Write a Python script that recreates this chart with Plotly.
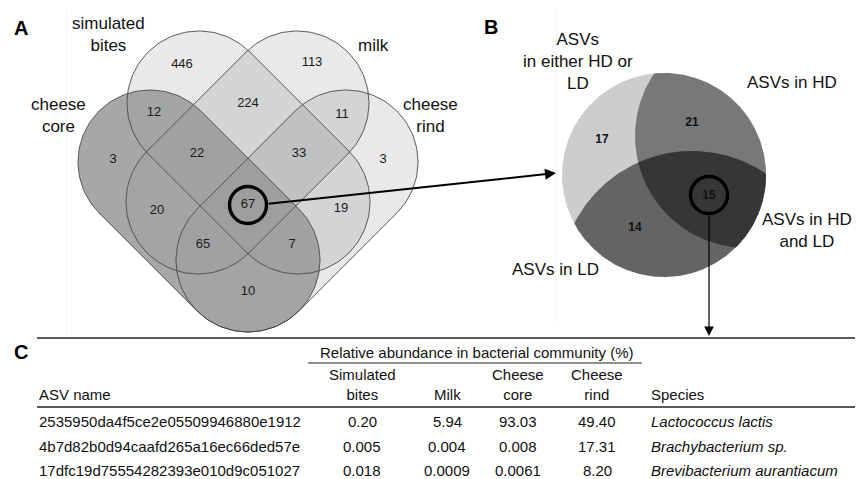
import numpy as np
import plotly.graph_objects as go

# ---------------- DATA ----------------
venn_set_names = ["simulated<br>bites", "milk", "cheese<br>core", "cheese<br>rind"]
venn_regions = ["B", "C", "BC", "AB", "CD", "A", "ABC", "BCD", "D", "AC", "ABCD", "BD", "ACD", "ABD", "AD"]
venn_counts = [446, 113, 224, 12, 11, 3, 22, 33, 3, 20, 67, 19, 65, 7, 10]

hdld_names = ["ASVs<br>in either HD or<br>LD", "ASVs in HD", "ASVs in LD", "ASVs in HD<br>and LD"]
hdld_regions = ["either", "HD", "LD", "HD&LD"]
hdld_counts = [17, 21, 14, 15]

table_group_title = "Relative abundance in bacterial community (%)"
table_columns = ["ASV name", "Simulated<br>bites", "Milk", "Cheese<br>core", "Cheese<br>rind", "Species"]
asv_names = ["2535950da4f5ce2e05509946880e1912",
             "4b7d82b0d94caafd265a16ec66ded57e",
             "17dfc19d75554282393e010d9c051027"]
abund_bites = ["0.20", "0.005", "0.018"]
abund_milk = ["5.94", "0.004", "0.0009"]
abund_core = ["93.03", "0.008", "0.0061"]
abund_rind = ["49.40", "17.31", "8.20"]
species = ["Lactococcus lactis", "Brachybacterium sp.", "Brevibacterium aurantiacum"]

# ---------------- LAYOUT (pixel-like data space) ----------------
W, H = 863, 479
PAGE_MARGIN = 8   # default body margin of the html page
FONT = "Liberation Sans, Arial, sans-serif"

# Venn geometry: stadium shapes (cap centres, radius)
R = 72
stadiums = {
    "A": ((150, 162), (248, 260)),   # cheese core
    "B": ((199, 103), (298, 202)),   # simulated bites
    "C": ((297, 103), (198, 202)),   # milk
    "D": ((346, 162), (248, 260)),   # cheese rind
}
region_pos = {
    "B": (182, 65), "C": (312, 63), "BC": (248, 104), "AB": (154, 113), "CD": (342, 115),
    "A": (113, 160), "ABC": (197, 154), "BCD": (299, 154), "D": (383, 160),
    "AC": (157, 211), "ABCD": (248, 205), "BD": (341, 209), "ACD": (203, 245),
    "ABD": (292, 245), "AD": (248, 292),
}
set_label_pos = [(108, 34), (373, 45), (58, 115), (430, 115)]

# Panel B geometry
BIG = ((664, 175), 102)
HD = ((747, 136), 112)
LD = ((692, 283), 132)
hdld_pos = {"either": (602, 140), "HD": (692, 123), "LD": (635, 228), "HD&LD": (709, 196)}
hdld_label_pos = [(578, 61), (792, 82), (555, 269), (807, 230)]


def stadium(p1, p2, r, n=80):
    p1 = np.array(p1, float)
    p2 = np.array(p2, float)
    d = p2 - p1
    a = np.arctan2(d[1], d[0])
    t2 = np.linspace(a - np.pi / 2, a + np.pi / 2, n)
    t1 = np.linspace(a + np.pi / 2, a + 3 * np.pi / 2, n)
    xs = np.concatenate([p2[0] + r * np.cos(t2), p1[0] + r * np.cos(t1), [p2[0] + r * np.cos(t2[0])]])
    ys = np.concatenate([p2[1] + r * np.sin(t2), p1[1] + r * np.sin(t1), [p2[1] + r * np.sin(t2[0])]])
    return xs, ys


def circ_pts(c, r, n=600):
    t = np.linspace(0, 2 * np.pi, n, endpoint=False)
    return np.stack([c[0] + r * np.cos(t), c[1] + r * np.sin(t)], 1)


def inside(P, c, r):
    return (P[:, 0] - c[0]) ** 2 + (P[:, 1] - c[1]) ** 2 <= r * r + 1e-6


def intersect(circles):
    pts = []
    for i, (c, r) in enumerate(circles):
        P = circ_pts(c, r)
        m = np.ones(len(P), bool)
        for j, (c2, r2) in enumerate(circles):
            if j != i:
                m &= inside(P, c2, r2)
        pts.append(P[m])
    P = np.concatenate(pts)
    ctr = P.mean(0)
    ang = np.arctan2(P[:, 1] - ctr[1], P[:, 0] - ctr[0])
    P = P[np.argsort(ang)]
    P = np.vstack([P, P[:1]])
    return P[:, 0], P[:, 1]


fig = go.Figure()
shapes = []
ann = []

# faint panel separators
shapes.append(dict(type="line", xref="x", yref="y", x0=66, x1=66, y0=0, y1=336,
                   line=dict(color="#f1f1f1", width=1), layer="below"))
shapes.append(dict(type="line", xref="x", yref="y", x0=556, x1=556, y0=0, y1=322,
                   line=dict(color="#f1f1f1", width=1), layer="below"))

# ---- Panel A: Venn ----
for key in ["B", "C", "D"]:
    xs, ys = stadium(*stadiums[key], R)
    fig.add_trace(go.Scatter(x=xs, y=ys, mode="lines", fill="toself",
                             fillcolor="rgba(0,0,0,0.085)", line=dict(width=0),
                             hoverinfo="skip", showlegend=False))
xs, ys = stadium(*stadiums["A"], R)
fig.add_trace(go.Scatter(x=xs, y=ys, mode="lines", fill="toself",
                         fillcolor="rgba(152,152,152,0.85)", line=dict(width=0),
                         hoverinfo="skip", showlegend=False))
for key in ["A", "B", "C", "D"]:
    xs, ys = stadium(*stadiums[key], R)
    fig.add_trace(go.Scatter(x=xs, y=ys, mode="lines", line=dict(color="#4a4a4a", width=0.9),
                             hoverinfo="skip", showlegend=False))

fig.add_trace(go.Scatter(
    x=[region_pos[r][0] for r in venn_regions],
    y=[region_pos[r][1] for r in venn_regions],
    mode="text", text=[str(v) for v in venn_counts],
    textfont=dict(family=FONT, size=13, color="#1a1a1a"),
    hoverinfo="skip", showlegend=False))

# ---- Panel B: HD / LD ----
bx, by = circ_pts(*BIG).T
fig.add_trace(go.Scatter(x=np.append(bx, bx[0]), y=np.append(by, by[0]), mode="lines", fill="toself",
                         fillcolor="#cdcdcd", line=dict(width=0), hoverinfo="skip", showlegend=False))
for circles, col in [([BIG, HD], "#787878"), ([BIG, LD], "#646464"), ([BIG, HD, LD], "#363636")]:
    xs, ys = intersect(circles)
    fig.add_trace(go.Scatter(x=xs, y=ys, mode="lines", fill="toself", fillcolor=col,
                             line=dict(width=0), hoverinfo="skip", showlegend=False))

fig.add_trace(go.Scatter(
    x=[hdld_pos[r][0] for r in hdld_regions],
    y=[hdld_pos[r][1] for r in hdld_regions],
    mode="text", text=["<b>%d</b>" % v for v in hdld_counts],
    textfont=dict(family=FONT, size=12, color="#111111"),
    hoverinfo="skip", showlegend=False))

# highlight circles
shapes.append(dict(type="circle", xref="x", yref="y", x0=248 - 18.5, x1=248 + 18.5,
                   y0=205 - 18.5, y1=205 + 18.5, line=dict(color="black", width=3.4)))
shapes.append(dict(type="circle", xref="x", yref="y", x0=709 - 18.5, x1=709 + 18.5,
                   y0=195 - 18.5, y1=195 + 18.5, line=dict(color="black", width=3.4)))

# arrows
ann.append(dict(x=556, y=173, ax=267, ay=204, xref="x", yref="y", axref="x", ayref="y",
                showarrow=True, arrowhead=2, arrowsize=1.1, arrowwidth=2, arrowcolor="black",
                standoff=0, startstandoff=0, text=""))
ann.append(dict(x=709, y=336, ax=709, ay=214, xref="x", yref="y", axref="x", ayref="y",
                showarrow=True, arrowhead=2, arrowsize=1.6, arrowwidth=1.2, arrowcolor="black",
                standoff=0, startstandoff=0, text=""))

# set labels
for name, (x, y) in zip(venn_set_names, set_label_pos):
    ann.append(dict(x=x, y=y, xref="x", yref="y", text=name, showarrow=False,
                    font=dict(family=FONT, size=17, color="#111111"), xanchor="center", yanchor="middle"))
for name, (x, y) in zip(hdld_names, hdld_label_pos):
    ann.append(dict(x=x, y=y, xref="x", yref="y", text=name, showarrow=False,
                    font=dict(family=FONT, size=17, color="#111111"), xanchor="center", yanchor="middle"))

# panel letters
for letter, (x, y) in zip(["A", "B", "C"], [(21, 28), (491, 27), (21, 352)]):
    ann.append(dict(x=x, y=y, xref="x", yref="y", text="<b>%s</b>" % letter, showarrow=False,
                    font=dict(family=FONT, size=20, color="black"), xanchor="center", yanchor="middle"))

# ---- Panel C: table ----
tab_left, tab_right = 37, 863
shapes.append(dict(type="line", xref="x", yref="y", x0=tab_left, x1=tab_right, y0=338, y1=338,
                   line=dict(color="#222222", width=1.6)))
shapes.append(dict(type="line", xref="x", yref="y", x0=tab_left, x1=tab_right, y0=407, y1=407,
                   line=dict(color="#222222", width=1.4)))
shapes.append(dict(type="line", xref="x", yref="y", x0=308, x1=642, y0=363, y1=363,
                   line=dict(color="#222222", width=1.1)))
ann.append(dict(x=476, y=352, xref="x", yref="y", text=table_group_title, showarrow=False,
                font=dict(family=FONT, size=15, color="#111111"), xanchor="center", yanchor="middle"))

col_x = [37, 362, 447, 518, 597, 649]
col_anchor = ["left", "center", "center", "center", "center", "left"]
for name, x, anc in zip(table_columns, col_x, col_anchor):
    ann.append(dict(x=x, y=405, xref="x", yref="y", text=name, showarrow=False,
                    font=dict(family=FONT, size=15, color="#111111"), xanchor=anc, yanchor="bottom"))

row_y = [421, 446, 470]
columns_data = [asv_names, abund_bites, abund_milk, abund_core, abund_rind,
                ["<i>%s</i>" % s for s in species]]
for col, x, anc in zip(columns_data, col_x, col_anchor):
    for val, y in zip(col, row_y):
        ann.append(dict(x=x, y=y, xref="x", yref="y", text=val, showarrow=False,
                        font=dict(family=FONT, size=15, color="#111111"), xanchor=anc, yanchor="middle"))

# The page body has an 8px margin: size the figure to fill the rest of the window
# and shift the axis ranges so that data units equal window pixels.
fig.update_layout(
    width=W - PAGE_MARGIN, height=H - PAGE_MARGIN, margin=dict(l=0, r=0, t=0, b=0),
    paper_bgcolor="white", plot_bgcolor="white",
    xaxis=dict(range=[PAGE_MARGIN, W], visible=False, fixedrange=True),
    yaxis=dict(range=[H, PAGE_MARGIN], visible=False, fixedrange=True),
    annotations=ann, shapes=shapes, showlegend=False,
)
fig.write_html("out.html")
